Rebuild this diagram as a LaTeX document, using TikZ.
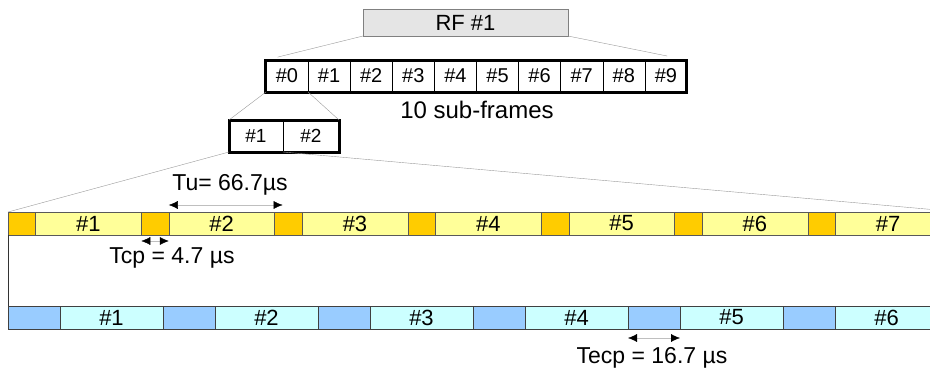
\documentclass[tikz,border=0pt]{standalone}
\usepackage{fontspec}
\setmainfont{Liberation Sans}
\usetikzlibrary{arrows.meta}

\definecolor{cpyellow}{HTML}{FFCC00}
\definecolor{datayellow}{HTML}{FFFF99}
\definecolor{cpblue}{HTML}{99CCFF}
\definecolor{datablue}{HTML}{CCFFFF}

\begin{document}
\begin{tikzpicture}[
    x=1pt,y=-1pt,
    txt/.style={font=\fontsize{23}{26}\selectfont},
    rfbox/.style={draw=gray, fill=gray!20, minimum width=205pt, minimum height=27pt,
      inner sep=0, outer sep=0, font=\fontsize{22}{24}\selectfont},
    sfbox/.style={draw, thin, minimum width=42.1pt, minimum height=32pt,
      inner sep=0, outer sep=0, font=\fontsize{20}{22}\selectfont},
    cpY/.style={draw=black!65, fill=cpyellow, minimum width=27.5pt, minimum height=23pt,
      inner sep=0, outer sep=0, anchor=west},
    dY/.style={cpY, fill=datayellow, minimum width=105.8pt, font=\fontsize{22}{24}\selectfont},
    cpB/.style={draw=black!75, fill=cpblue, minimum width=52pt, minimum height=23pt,
      inner sep=0, outer sep=0, anchor=west},
    dB/.style={cpB, fill=datablue, minimum width=103pt, font=\fontsize{22}{24}\selectfont},
    zoomline/.style={draw=gray!80, thin},
    span/.style={draw=gray!50, thin, {Latex[color=black,length=9pt,width=8pt]}-{Latex[color=black,length=9pt,width=8pt]}}
    ]
    \useasboundingbox (0,0) rectangle (930,372);

    % radio frame and its sub-frames
    \node[rfbox] (rf) at (465.5,22.5) {RF \#1};
    \foreach \i in {0,...,9}
      \node[sfbox] (sf\i) at ({287+42.1*\i},76) {\#\i};
    \draw[line width=3pt] (sf0.north west) rectangle (sf9.south east);
    \node[txt, font=\fontsize{24}{26}\selectfont] (nsf) at (477,110) {10 sub-frames};
    \draw[zoomline, shorten >=12pt] (rf.south west) -- (sf0.north west);
    \draw[zoomline, shorten >=20pt] (rf.south east) -- (sf9.north east);

    % slots of sub-frame #0
    \node[sfbox, minimum width=54pt, font=\fontsize{19}{21}\selectfont] (z1) at (256,136) {\#1};
    \node[sfbox, minimum width=56pt, font=\fontsize{19}{21}\selectfont] (z2) at (311,136) {\#2};
    \draw[line width=3pt] (z1.north west) rectangle (z2.south east);
    \draw[zoomline] (sf0.south west) -- (z1.north west);
    \draw[zoomline] (sf0.south east) -- (z2.north east);

    % normal cyclic prefix
    \foreach \k in {1,...,7} {
      \node[cpY] (cY\k) at ({8+133.3*(\k-1)},223.5) {};
      \node[dY] (dY\k) at (cY\k.east) {\#\k};
    }
    \coordinate (yend) at (960,212);
    \draw[zoomline] (z1.south west) -- (cY1.north west);
    \draw[zoomline] (z1.south east) -- (yend);

    % extended cyclic prefix
    \foreach \k in {1,...,6} {
      \node[cpB] (cB\k) at ({8+155*(\k-1)},317.5) {};
      \node[dB] (dB\k) at (cB\k.east) {\#\k};
    }
    \draw[black!80] (cY1.south west) -- (cB1.north west);

    % durations
    \draw[span] ([yshift=7pt]dY2.north west) -- ([xshift=8pt,yshift=7pt]dY2.north east);
    \node[txt] (tu) at (230,185) {Tu= 66.7µs};
    \draw[span] ([yshift=-6pt]cY2.south west) -- ([yshift=-6pt]cY2.south east);
    \node[txt] (tcp) at (172,258) {Tcp = 4.7 µs};
    \draw[span] ([yshift=-9pt]cB5.south west) -- ([yshift=-9pt]cB5.south east);
    \node[txt] (tecp) at (652,358) {Tecp = 16.7 µs};
  \end{tikzpicture}
\end{document}
